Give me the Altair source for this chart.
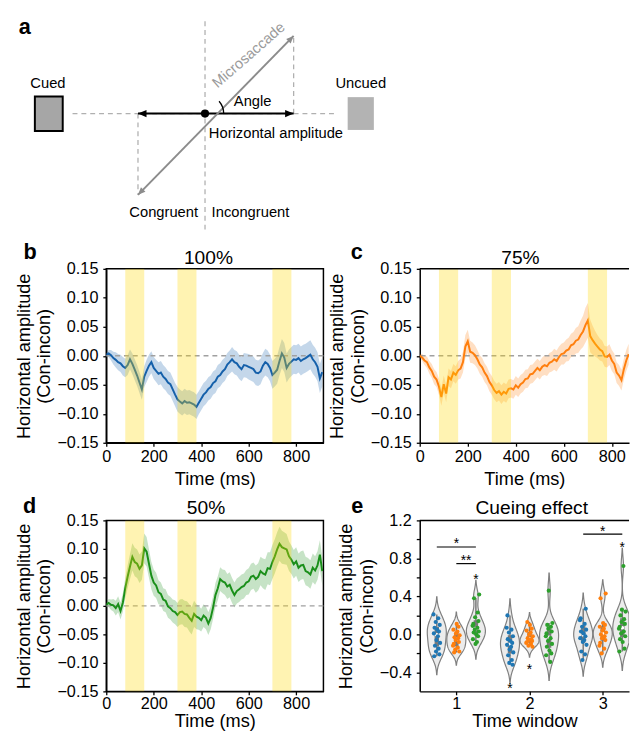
import math
import altair as alt
import pandas as pd

FONT = "Liberation Sans"

# ------------------------------------------------------------------ time-series data (10 ms grid)
time_ms = list(range(0, 920, 10))

mean_100 = [0.002, 0.004, 0.001, -0.004, -0.007, -0.011, -0.013, -0.018, -0.021, -0.016,
            -0.006, -0.014, -0.024, -0.034, -0.046, -0.058, -0.036, -0.026, -0.017, -0.011,
            -0.021, -0.026, -0.031, -0.029, -0.036, -0.040, -0.046, -0.049, -0.058, -0.067,
            -0.075, -0.079, -0.082, -0.078, -0.081, -0.080, -0.082, -0.084, -0.088, -0.081,
            -0.074, -0.067, -0.063, -0.057, -0.054, -0.047, -0.044, -0.036, -0.033, -0.027,
            -0.023, -0.015, -0.011, -0.006, -0.011, -0.013, -0.019, -0.023, -0.016, -0.017,
            -0.019, -0.021, -0.023, -0.029, -0.030, -0.027, -0.017, -0.011, -0.014, -0.021,
            -0.033, -0.029, -0.024, -0.009, 0.004, -0.003, -0.021, -0.014, -0.010, -0.006,
            -0.007, -0.004, -0.009, -0.006, -0.004, -0.001, 0.002, -0.006, -0.011, -0.019,
            -0.039, -0.028]
sem_100 = [0.003, 0.006, 0.009, 0.011, 0.013, 0.014, 0.015, 0.016, 0.016, 0.017,
           0.017, 0.018, 0.018, 0.018, 0.018, 0.018, 0.018, 0.019, 0.019, 0.019,
           0.019, 0.019, 0.020, 0.020, 0.020, 0.020, 0.020, 0.020, 0.020, 0.020,
           0.021, 0.021, 0.021, 0.021, 0.021, 0.021, 0.021, 0.021, 0.021, 0.020,
           0.020, 0.020, 0.020, 0.020, 0.020, 0.020, 0.020, 0.020, 0.020, 0.020,
           0.020, 0.020, 0.020, 0.021, 0.021, 0.021, 0.021, 0.021, 0.021, 0.021,
           0.022, 0.022, 0.022, 0.022, 0.022, 0.022, 0.022, 0.023, 0.023, 0.023,
           0.024, 0.024, 0.024, 0.024, 0.025, 0.025, 0.025, 0.025, 0.025, 0.025,
           0.025, 0.025, 0.025, 0.025, 0.025, 0.025, 0.025, 0.025, 0.025, 0.025,
           0.025, 0.025]

mean_75 = [0.000, -0.003, -0.008, -0.011, -0.020, -0.026, -0.036, -0.041, -0.053, -0.071,
           -0.049, -0.065, -0.037, -0.041, -0.029, -0.033, -0.025, -0.022, -0.011, 0.016,
           0.025, 0.007, 0.005, 0.001, -0.006, -0.015, -0.020, -0.029, -0.035, -0.045,
           -0.051, -0.059, -0.064, -0.061, -0.067, -0.062, -0.065, -0.057, -0.056, -0.058,
           -0.051, -0.055, -0.049, -0.046, -0.040, -0.039, -0.032, -0.031, -0.026, -0.021,
           -0.025, -0.019, -0.016, -0.018, -0.012, -0.010, -0.006, -0.009, -0.002, 0.003,
           0.004, 0.009, 0.011, 0.018, 0.020, 0.026, 0.028, 0.036, 0.042, 0.053,
           0.061, 0.034, 0.027, 0.021, 0.016, 0.011, 0.008, -0.001, -0.002, 0.002,
           -0.008, -0.014, -0.029, -0.034, -0.042, -0.023, -0.008, 0.003, -0.002, 0.001,
           0.003, 0.000]
sem_75 = [0.003, 0.006, 0.008, 0.010, 0.011, 0.012, 0.013, 0.013, 0.014, 0.015,
          0.015, 0.015, 0.015, 0.015, 0.015, 0.015, 0.016, 0.017, 0.018, 0.020,
          0.020, 0.019, 0.018, 0.017, 0.016, 0.016, 0.016, 0.016, 0.016, 0.016,
          0.016, 0.016, 0.016, 0.016, 0.016, 0.016, 0.016, 0.016, 0.016, 0.016,
          0.016, 0.016, 0.016, 0.016, 0.016, 0.016, 0.016, 0.016, 0.016, 0.016,
          0.016, 0.016, 0.017, 0.017, 0.017, 0.017, 0.018, 0.018, 0.018, 0.018,
          0.019, 0.019, 0.020, 0.020, 0.021, 0.022, 0.023, 0.025, 0.027, 0.030,
          0.030, 0.028, 0.025, 0.022, 0.020, 0.019, 0.018, 0.018, 0.018, 0.018,
          0.018, 0.018, 0.018, 0.018, 0.018, 0.018, 0.018, 0.018, 0.018, 0.018,
          0.018, 0.018]

mean_50 = [0.002, 0.005, 0.002, 0.001, -0.004, 0.003, -0.009, 0.006, 0.031, 0.051,
           0.069, 0.086, 0.077, 0.074, 0.065, 0.071, 0.101, 0.095, 0.074, 0.053,
           0.041, 0.036, 0.024, 0.021, 0.011, 0.009, -0.001, -0.004, -0.009, -0.011,
           -0.016, -0.011, -0.010, -0.014, -0.015, -0.021, -0.026, -0.014, -0.019, -0.021,
           -0.025, -0.017, -0.021, -0.031, -0.021, -0.003, 0.019, 0.031, 0.047, 0.043,
           0.041, 0.034, 0.037, 0.027, 0.019, 0.026, 0.029, 0.033, 0.035, 0.041,
           0.043, 0.051, 0.053, 0.047, 0.051, 0.061, 0.057, 0.055, 0.066, 0.065,
           0.077, 0.087, 0.099, 0.109, 0.103, 0.101, 0.099, 0.087, 0.081, 0.073,
           0.078, 0.067, 0.071, 0.072, 0.061, 0.059, 0.055, 0.067, 0.062, 0.071,
           0.090, 0.061]
sem_50 = [0.004, 0.007, 0.009, 0.011, 0.013, 0.014, 0.015, 0.016, 0.018, 0.020,
          0.022, 0.024, 0.025, 0.025, 0.025, 0.025, 0.026, 0.026, 0.025, 0.024,
          0.023, 0.022, 0.021, 0.020, 0.020, 0.020, 0.020, 0.020, 0.020, 0.021,
          0.021, 0.022, 0.022, 0.023, 0.023, 0.024, 0.024, 0.023, 0.022, 0.021,
          0.020, 0.020, 0.020, 0.020, 0.020, 0.020, 0.021, 0.021, 0.021, 0.021,
          0.022, 0.022, 0.022, 0.022, 0.022, 0.022, 0.022, 0.022, 0.022, 0.022,
          0.023, 0.023, 0.023, 0.024, 0.024, 0.025, 0.026, 0.027, 0.028, 0.029,
          0.030, 0.030, 0.030, 0.030, 0.029, 0.028, 0.027, 0.026, 0.025, 0.025,
          0.025, 0.025, 0.025, 0.025, 0.025, 0.025, 0.025, 0.025, 0.025, 0.025,
          0.025, 0.025]

window_start_ms = [80, 300, 700]
window_end_ms = [160, 380, 780]

ts_xticks = [0, 200, 400, 600, 800]
ts_yticks = [-0.15, -0.10, -0.05, 0.0, 0.05, 0.10, 0.15]

# ------------------------------------------------------------------ cueing-effect data (per subject)
conditions = ["100%", "75%", "50%"]
point_colors = ["#1f77b4", "#ff7f0e", "#2ca02c"]
w1_100 = [0.21, 0.17, 0.13, 0.10, 0.07, 0.05, 0.03, 0.01, -0.02, -0.06, -0.09, -0.12, -0.15, -0.18, -0.21, -0.23]
w1_75 = [0.11, 0.08, 0.05, 0.03, 0.01, -0.01, -0.03, -0.04, -0.06, -0.08, -0.10, -0.12, -0.14, -0.16, -0.18, -0.19]
w1_50 = [0.42, 0.38, 0.23, 0.18, 0.14, 0.11, 0.09, 0.07, 0.05, 0.03, 0.02, 0.0, -0.02, -0.05, -0.08, -0.10]
w2_100 = [0.20, 0.07, 0.05, 0.02, -0.02, -0.05, -0.07, -0.09, -0.11, -0.13, -0.16, -0.19, -0.22, -0.27, -0.30, -0.32]
w2_75 = [0.13, 0.10, 0.06, 0.04, 0.02, 0.0, -0.02, -0.04, -0.05, -0.06, -0.07, -0.08, -0.09, -0.10, -0.12, -0.13]
w2_50 = [0.46, 0.12, 0.10, 0.08, 0.06, 0.03, 0.01, -0.02, -0.04, -0.07, -0.10, -0.13, -0.17, -0.20, -0.22, -0.29]
w3_100 = [0.27, 0.17, 0.15, 0.11, 0.08, 0.05, 0.03, 0.01, -0.02, -0.04, -0.06, -0.08, -0.11, -0.18, -0.21, -0.27]
w3_75 = [0.43, 0.38, 0.12, 0.10, 0.08, 0.06, 0.04, 0.02, 0.0, -0.02, -0.04, -0.06, -0.09, -0.12, -0.15, -0.20]
w3_50 = [0.72, 0.26, 0.24, 0.20, 0.16, 0.13, 0.11, 0.08, 0.06, 0.03, 0.01, -0.02, -0.05, -0.08, -0.15, -0.18]
windows = [1, 2, 3]
dodge = {"100%": -0.267, "75%": 0.0, "50%": 0.267}
jitter_pattern = [-0.045, 0.02, -0.015, 0.04, -0.03, 0.005, 0.03, -0.04,
                  0.015, -0.005, 0.045, -0.025, 0.025, -0.01, 0.035, -0.035]

bracket_window = [1, 1, 3]
bracket_from = ["100%", "75%", "100%"]
bracket_to = ["50%", "50%", "50%"]
bracket_y = [0.92, 0.745, 1.055]
bracket_label = ["*", "**", "*"]
bracket_label_y = [0.99, 0.81, 1.12]
star_window = [1, 2, 2, 3]
star_cond = ["50%", "100%", "75%", "50%"]
star_y = [0.61, -0.53, -0.33, 0.955]

# ------------------------------------------------------------------ schematic (panel a), abstract units
dash_x1 = [-1.498, 0.0, -0.758, 1.002]
dash_y1 = [0.0, 1.044, 0.0, 0.0]
dash_x2 = [1.483, 0.0, -0.758, 1.002]
dash_y2 = [0.0, -1.344, -0.919, 0.878]
arrow_x1 = [-0.758, -0.758]
arrow_y1 = [0.0, -0.919]
arrow_x2 = [1.002, 1.002]
arrow_y2 = [0.0, 0.878]
arrow_color = ["black", "#8c8c8c"]
arrow_head_size = [300, 230]
cue_rect_x = [-1.924, -1.609]
cue_rect_y = [-0.197, 0.192]
uncue_rect_x = [1.613, 1.909]
uncue_rect_y = [-0.185, 0.186]
diag_labels = ["Cued", "Uncued", "Angle", "Horizontal amplitude", "Congruent", "Incongruent"]
diag_label_x = [-1.776, 1.761, 0.539, 0.802, -0.467, 0.514]
diag_label_y = [0.35, 0.35, 0.142, -0.222, -1.117, -1.117]
saccade_label_pos = (0.492, 0.664)
letter_a_pos = (-2.039, 0.90)
page_anchor = (-2.206, 1.10)

# ------------------------------------------------------------------ layout (pixels)
TS_W, TS_H = 221, 177
C_W = 213
E_W, E_H = 213, 174
COL_GAP, ROW_GAP = 98, 79
PX_PER_UNIT = 90.0
DIAG_CX, DIAG_CY = 100.5, -158.0       # schematic centre relative to panel b's view
DIAG_X_DOMAIN = [-DIAG_CX / PX_PER_UNIT, (TS_W - DIAG_CX) / PX_PER_UNIT]
DIAG_Y_DOMAIN = [(DIAG_CY - TS_H) / PX_PER_UNIT, DIAG_CY / PX_PER_UNIT]
C_PX_PER_MS = 0.2444
C_XMAX = C_W / C_PX_PER_MS
E_PX_PER_UNIT = 74.5
E_XMAX = 0.5 + E_W / E_PX_PER_UNIT

y_title = ["Horizontal amplitude", "(Con-incon)"]
x_axis_top = alt.Axis(values=ts_xticks, format="d", title="Time (ms)", labelPadding=3, titlePadding=4)
x_axis_bottom = alt.Axis(values=ts_xticks, format="d", title="Time (ms)", labelPadding=1, titlePadding=0)
y_axis = alt.Axis(values=ts_yticks, format=".2f", title=y_title)
df_win = pd.DataFrame({"start": window_start_ms, "end": window_end_ms})
one = pd.DataFrame({"k": [0]})


def text_layer(text, x, y, size, weight="normal"):
    return alt.Chart(one).mark_text(
        text=text, fontSize=size, fontWeight=weight, align="center",
        baseline="alphabetic", color="black"
    ).encode(x=alt.value(x), y=alt.value(y))


def ts_panel(mean, sem, color, x_max, width, height, x_axis, title, title_x, title_y,
             letter, letter_x, letter_y, open_right):
    df = pd.DataFrame({"t": time_ms, "m": mean, "s": sem})
    xs = alt.Scale(domain=[0, x_max], nice=False, zero=False)
    ys = alt.Scale(domain=[-0.15, 0.15], nice=False, zero=False)
    X = lambda f: alt.X(f, scale=xs, axis=x_axis)
    Y = lambda f: alt.Y(f, scale=ys, axis=y_axis)
    keep = f"datum.t <= {x_max + 3}"
    band = alt.Chart(df).transform_filter(keep).transform_calculate(
        lo="datum.m - datum.s", hi="datum.m + datum.s"
    ).mark_area(color=color, opacity=0.25, clip=True).encode(x=X("t:Q"), y=Y("lo:Q"), y2="hi:Q")
    zero = alt.Chart(pd.DataFrame({"z": [0.0]})).mark_rule(
        color="#a0a0a0", strokeDash=[5, 4], strokeWidth=1.5
    ).encode(y=Y("z:Q"))
    line = alt.Chart(df).transform_filter(keep).mark_line(color=color, strokeWidth=2, clip=True).encode(
        x=X("t:Q"), y=Y("m:Q"))
    win = alt.Chart(df_win).mark_rect(color="#FFD700", opacity=0.3, clip=True).encode(
        x=X("start:Q"), x2="end:Q", y=alt.value(0), y2=alt.value(height))
    layers = [band, zero, line, win,
              text_layer(title, title_x, title_y, 19.5),
              text_layer(letter, letter_x, letter_y, 22, "bold")]
    if open_right:
        layers.append(alt.Chart(one).mark_rule(color="black", strokeWidth=1.5).encode(
            x=alt.value(0), x2=alt.value(width), y=alt.value(0)))
    return alt.layer(*layers)


# ------------------------------------------------------------------ panel a (schematic) layered with b
dxs = alt.Scale(domain=DIAG_X_DOMAIN, nice=False, zero=False)
dys = alt.Scale(domain=DIAG_Y_DOMAIN, nice=False, zero=False)
DX = lambda f: alt.X(f, scale=dxs, axis=None)
DY = lambda f: alt.Y(f, scale=dys, axis=None)

df_dash = pd.DataFrame({"x1": dash_x1, "y1": dash_y1, "x2": dash_x2, "y2": dash_y2})
df_arrow = pd.DataFrame({"x1": arrow_x1, "y1": arrow_y1, "x2": arrow_x2, "y2": arrow_y2,
                         "col": arrow_color})
head_rows = []
for x1, y1, x2, y2, col, sz in zip(arrow_x1, arrow_y1, arrow_x2, arrow_y2, arrow_color, arrow_head_size):
    ang = math.degrees(math.atan2(-(y2 - y1), x2 - x1)) % 360
    head_rows.append({"x": x2, "y": y2, "ang": ang, "col": col, "sz": sz})
    head_rows.append({"x": x1, "y": y1, "ang": (ang + 180) % 360, "col": col, "sz": sz})
df_heads = pd.DataFrame(head_rows)
saccade_angle = math.atan2(arrow_y2[1], arrow_x2[1])
df_center = pd.DataFrame({"x": [0.0], "y": [0.0]})

dashes = alt.Chart(df_dash).mark_rule(color="#b0b0b0", strokeDash=[5, 4], strokeWidth=1.3).encode(
    x=DX("x1:Q"), y=DY("y1:Q"), x2="x2:Q", y2="y2:Q")
arrows = alt.Chart(df_arrow).mark_rule(strokeWidth=2).encode(
    x=DX("x1:Q"), y=DY("y1:Q"), x2="x2:Q", y2="y2:Q", color=alt.Color("col:N", scale=None))
heads = alt.Chart(df_heads).mark_point(
    shape="M0,0L-1,-0.42L-1,0.42Z", filled=True, opacity=1, strokeWidth=0
).encode(x=DX("x:Q"), y=DY("y:Q"), angle=alt.Angle("ang:Q", scale=None),
         color=alt.Color("col:N", scale=None), size=alt.Size("sz:Q", scale=None))
dot = alt.Chart(df_center).mark_point(shape="circle", filled=True, color="black", size=69, opacity=1).encode(
    x=DX("x:Q"), y=DY("y:Q"))
arc = alt.Chart(df_center).mark_arc(
    theta=math.pi / 2 - saccade_angle, theta2=math.pi / 2, radius=19, radius2=19,
    filled=False, stroke="black", strokeWidth=1.3
).encode(x=DX("x:Q"), y=DY("y:Q"))
cue_rect = alt.Chart(pd.DataFrame({"x": [cue_rect_x[0]], "x2": [cue_rect_x[1]],
                                   "y": [cue_rect_y[0]], "y2": [cue_rect_y[1]]})).mark_rect(
    fill="#a6a6a6", stroke="black", strokeWidth=2).encode(x=DX("x:Q"), x2="x2:Q", y=DY("y:Q"), y2="y2:Q")
uncue_rect = alt.Chart(pd.DataFrame({"x": [uncue_rect_x[0]], "x2": [uncue_rect_x[1]],
                                     "y": [uncue_rect_y[0]], "y2": [uncue_rect_y[1]]})).mark_rect(
    fill="#b3b3b3").encode(x=DX("x:Q"), x2="x2:Q", y=DY("y:Q"), y2="y2:Q")
labels = alt.Chart(pd.DataFrame({"x": diag_label_x, "y": diag_label_y, "t": diag_labels})).mark_text(
    fontSize=15, align="center", baseline="middle", color="black").encode(x=DX("x:Q"), y=DY("y:Q"), text="t:N")
sacc_label = alt.Chart(pd.DataFrame({"x": [saccade_label_pos[0]], "y": [saccade_label_pos[1]],
                                     "t": ["Microsaccade"]})).mark_text(
    fontSize=15, align="center", baseline="middle", color="#9a9a9a",
    angle=round((-math.degrees(saccade_angle)) % 360, 1)).encode(x=DX("x:Q"), y=DY("y:Q"), text="t:N")
letter_a = alt.Chart(pd.DataFrame({"x": [letter_a_pos[0]], "y": [letter_a_pos[1]], "t": ["a"]})).mark_text(
    fontSize=22, fontWeight="bold", align="center", baseline="alphabetic", color="black").encode(
    x=DX("x:Q"), y=DY("y:Q"), text="t:N")
anchor = alt.Chart(pd.DataFrame({"x": [page_anchor[0]], "y": [page_anchor[1]]})).mark_point(
    size=1, filled=True, color="white", opacity=1).encode(x=DX("x:Q"), y=DY("y:Q"))

diagram = alt.layer(dashes, arrows, heads, dot, arc, cue_rect, uncue_rect, labels, sacc_label,
                    letter_a, anchor)

panel_b = alt.layer(
    ts_panel(mean_100, sem_100, "#1560aa", 915, TS_W, TS_H, x_axis_top, "100%", 104, -5.3,
             "b", -77.5, -10, False),
    diagram
).resolve_scale(x="independent", y="independent").properties(
    width=TS_W, height=TS_H, view=alt.ViewBackground(stroke="black", strokeWidth=1.5))

panel_c = ts_panel(mean_75, sem_75, "#ff7f0e", C_XMAX, C_W, TS_H, x_axis_top, "75%", 102.5, -5.3,
                   "c", -64, -10, True).properties(
    width=C_W, height=TS_H, view=alt.ViewBackground(stroke="transparent"))

panel_d = ts_panel(mean_50, sem_50, "#1a8f1a", 915, TS_W, E_H, x_axis_bottom, "50%", 101.5, -6.3,
                   "d", -78, -8, False).properties(
    width=TS_W, height=E_H, view=alt.ViewBackground(stroke="black", strokeWidth=1.5))

# ------------------------------------------------------------------ panel e (violins)
rows = []
groups = [(1, "100%", w1_100), (1, "75%", w1_75), (1, "50%", w1_50),
          (2, "100%", w2_100), (2, "75%", w2_75), (2, "50%", w2_50),
          (3, "100%", w3_100), (3, "75%", w3_75), (3, "50%", w3_50)]
for gi, (w, c, vals) in enumerate(groups):
    for i, v in enumerate(vals):
        pos = w + dodge[c]
        rows.append({"window": w, "cond": c, "v": v, "pos": pos,
                     "px": pos + jitter_pattern[(i + 5 * gi) % len(jitter_pattern)]})
df_v = pd.DataFrame(rows)

ex = alt.Scale(domain=[0.5, E_XMAX], nice=False, zero=False)
ey = alt.Scale(domain=[-0.6, 1.2], nice=False, zero=False)
e_x_axis = alt.Axis(values=windows, format="d", title="Time window", labelPadding=1, titlePadding=0)
e_y_axis = alt.Axis(values=[-0.4, -0.2, 0.0, 0.2, 0.4, 0.6, 0.8, 1.0, 1.2],
                    labelExpr="abs(round(datum.value * 10)) % 4 == 0 ? format(datum.value, '.1f') : ''",
                    title=y_title)
EX = lambda f: alt.X(f, scale=ex, axis=e_x_axis)
EY = lambda f: alt.Y(f, scale=ey, axis=e_y_axis)

violin = alt.Chart(df_v).transform_density(
    "v", groupby=["pos"], extent=[-0.6, 1.2], steps=360, as_=["value", "density"]
).transform_joinaggregate(dmax="max(density)", groupby=["pos"]).transform_filter(
    "datum.density / datum.dmax > 0.015"
).transform_calculate(
    xl="datum.pos - 0.13 * datum.density / datum.dmax",
    xr=f"min({E_XMAX}, datum.pos + 0.13 * datum.density / datum.dmax)"
).mark_area(orient="horizontal", fill="#ececec", stroke="#7f7f7f", strokeWidth=1.2, clip=True).encode(
    y=EY("value:Q"), x=EX("xl:Q"), x2="xr:Q", detail="pos:N")

box_base = alt.Chart(df_v).transform_joinaggregate(
    q1="q1(v)", q3="q3(v)", groupby=["pos"]
).transform_calculate(
    inr="(datum.v >= datum.q1 - 1.5 * (datum.q3 - datum.q1) && datum.v <= datum.q3 + 1.5 * (datum.q3 - datum.q1)) ? datum.v : null"
).transform_aggregate(
    lo="min(inr)", hi="max(inr)", bq1="q1(v)", bq3="q3(v)", med="median(v)", groupby=["pos"])
whisker = box_base.mark_rule(color="#7a7a7a", strokeWidth=1.5, clip=True).encode(
    x=EX("pos:Q"), y=EY("lo:Q"), y2="hi:Q")
box = box_base.mark_rule(color="#7a7a7a", strokeWidth=4.5, clip=True).encode(
    x=EX("pos:Q"), y=EY("bq1:Q"), y2="bq3:Q")
med = box_base.mark_point(filled=True, color="white", size=14, opacity=1, clip=True).encode(
    x=EX("pos:Q"), y=EY("med:Q"))
pts = alt.Chart(df_v).mark_circle(size=18, opacity=1, clip=True).encode(
    x=EX("px:Q"), y=EY("v:Q"),
    color=alt.Color("cond:N", scale=alt.Scale(domain=conditions, range=point_colors), legend=None))

df_br = pd.DataFrame({
    "x1": [w + dodge[a] for w, a in zip(bracket_window, bracket_from)],
    "x2": [w + dodge[b] for w, b in zip(bracket_window, bracket_to)],
    "y": bracket_y, "t": bracket_label, "ty": bracket_label_y})
br_lines = alt.Chart(df_br).mark_rule(color="black", strokeWidth=1.2).encode(
    x=EX("x1:Q"), x2="x2:Q", y=EY("y:Q"))
br_text = alt.Chart(df_br).transform_calculate(xm="(datum.x1 + datum.x2) / 2").mark_text(
    fontSize=14, align="center", baseline="middle", dy=4, color="black").encode(
    x=EX("xm:Q"), y=EY("ty:Q"), text="t:N")
df_star = pd.DataFrame({"x": [w + dodge[c] for w, c in zip(star_window, star_cond)],
                        "y": star_y, "t": ["*"] * len(star_y)})
stars = alt.Chart(df_star).mark_text(fontSize=14, align="center", baseline="middle", dy=4,
                                     color="black").encode(x=EX("x:Q"), y=EY("y:Q"), text="t:N")
e_top = alt.Chart(one).mark_rule(color="black", strokeWidth=1.5).encode(
    x=alt.value(0), x2=alt.value(E_W), y=alt.value(0))

panel_e = alt.layer(
    violin, whisker, box, med, pts, br_lines, br_text, stars, e_top,
    text_layer("Cueing effect", 114, -6.3, 19.5),
    text_layer("e", -63.5, -8, 22, "bold"),
).properties(width=E_W, height=E_H, view=alt.ViewBackground(stroke="transparent"))

chart = alt.concat(
    panel_b, panel_c, panel_d, panel_e,
    columns=2, spacing={"row": ROW_GAP, "column": COL_GAP}, bounds="flush"
).properties(
    padding={"left": 0, "top": 0, "right": 0, "bottom": 0}, background="white"
).configure(font=FONT).configure_axis(
    labelFont=FONT, titleFont=FONT, labelFontSize=16.5, titleFontSize=18.5,
    titleFontWeight="normal", labelColor="black", titleColor="black",
    domainColor="black", domainWidth=1.5, tickColor="black", tickWidth=1.3,
    tickSize=3.5, grid=False, labelFlush=False
).configure_axisY(labelPadding=5, titlePadding=3, titleLineHeight=21)

chart.save("out.html", embed_options={"renderer": "svg", "actions": False})
